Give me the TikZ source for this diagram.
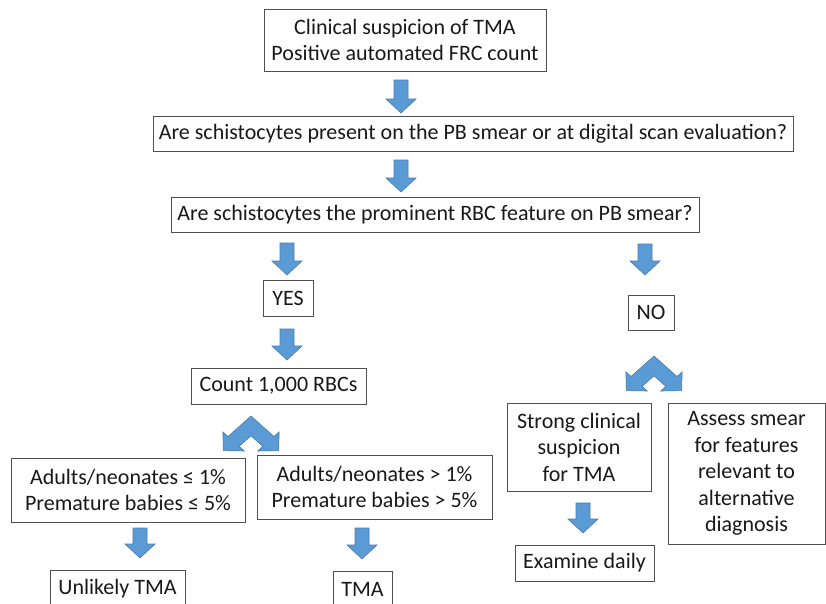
\documentclass[tikz,border=0pt]{standalone}
\usepackage{fontspec}
\setmainfont{Carlito}
\definecolor{arrowblue}{HTML}{5B9BD5}
\definecolor{boxline}{HTML}{505050}
\tikzset{
  box/.style={draw=boxline, line width=1pt, fill=white, inner sep=0pt, align=center,
    font=\fontsize{22}{26.5}\selectfont, text=black!90},
  barrow/.style={fill=arrowblue, draw=arrowblue!80!black, line width=0.6pt, line join=miter}
}
% block arrow pointing down: x, ytop, ybottom
\newcommand\blockdown[3]{%
  \filldraw[barrow] (#1-7,#2) -- (#1+7,#2) -- (#1+7,#3-14) -- (#1+15,#3-14)
    -- (#1,#3) -- (#1-15,#3-14) -- (#1-7,#3-14) -- cycle;}
% split chevron: apex x, apex y
\newcommand\splitchev[2]{%
  \begin{scope}[shift={(#1,#2)}, xscale=1.12]
  \filldraw[barrow] (0,0) -- (20.5,20.5) -- (25.1,15.9) -- (24.7,34.6) -- (6.0,35.0)
    -- (10.6,30.4) -- (0,19.8) -- (-10.6,30.4) -- (-6.0,35.0) -- (-24.7,34.6)
    -- (-25.1,15.9) -- (-20.5,20.5) -- cycle;
  \end{scope}}
\begin{document}
\begin{tikzpicture}[x=1pt, y=-1pt]
\clip (0,0) rectangle (826,603);
\fill[white] (0,0) rectangle (826,603);

\node[box, minimum width=282pt, minimum height=62pt] (b1) at (405,40)
  {Clinical suspicion of TMA\\Positive automated FRC count};
\node[box, minimum width=640pt, minimum height=35pt] (b2) at (473,133.5)
  {Are schistocytes present on the PB smear or at digital scan evaluation?};
\node[box, minimum width=528pt, minimum height=35pt] (b3) at (435,214.5)
  {Are schistocytes the prominent RBC feature on PB smear?};
\node[box, minimum width=50pt, minimum height=36pt] (yes) at (288,298) {YES};
\node[box, minimum width=46pt, minimum height=35pt] (no) at (651,312.5) {NO};
\node[box, minimum width=175pt, minimum height=36pt] (count) at (278.5,386) {Count 1,000 RBCs};
\node[box, minimum width=234pt, minimum height=64pt] (low) at (128,490)
  {Adults/neonates ≤ 1\%\\Premature babies ≤ 5\%};
\node[box, minimum width=235pt, minimum height=64pt] (high) at (374.5,487)
  {Adults/neonates > 1\%\\Premature babies > 5\%};
\node[box, minimum width=135pt, minimum height=37pt] (unlikely) at (117.5,588.5) {Unlikely TMA};
\node[box, minimum width=59pt, minimum height=37pt] (tma) at (362.5,589.5) {TMA};
\node[box, minimum width=144pt, minimum height=88pt] (strong) at (579,447)
  {Strong clinical\\suspicion\\for TMA};
\node[box, minimum width=157pt, minimum height=141pt] (assess) at (746.5,473.5)
  {Assess smear\\for features\\relevant to\\alternative\\diagnosis};
\node[box, minimum width=139pt, minimum height=36pt] (daily) at (584.5,563) {Examine daily};

\blockdown{401}{80}{113}
\blockdown{401}{160}{192}
\blockdown{287}{243}{275}
\blockdown{645}{244}{275}
\blockdown{287}{329}{360}
\blockdown{140}{528}{558}
\blockdown{362}{528}{559}
\blockdown{583}{503}{533}

\splitchev{251}{416}
\splitchev{654}{356}
\end{tikzpicture}
\end{document}
